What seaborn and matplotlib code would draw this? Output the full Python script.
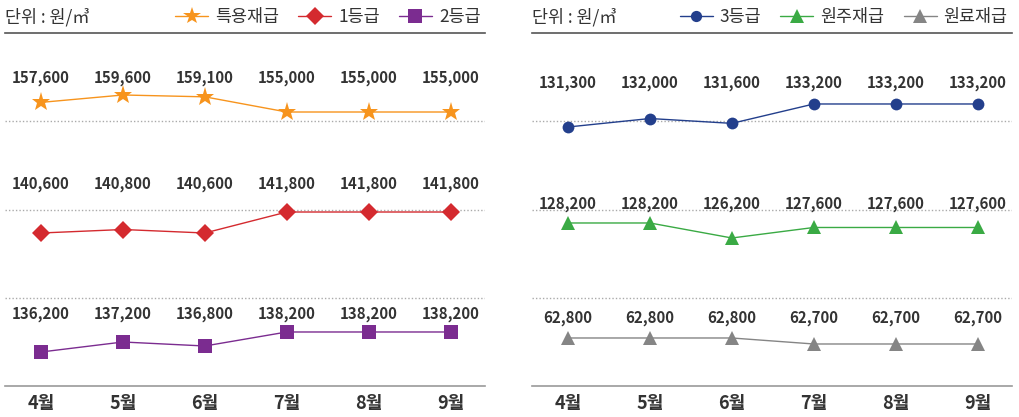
import numpy as np
import pandas as pd
import matplotlib
matplotlib.use("Agg")
import matplotlib.pyplot as plt
from matplotlib.lines import Line2D
import seaborn as sns

# ---------------- data ----------------
months = ["4월", "5월", "6월", "7월", "8월", "9월"]
unit_label = "단위 : 원/㎥"

left_names = ["특용재급", "1등급", "2등급"]
special = [157600, 159600, 159100, 155000, 155000, 155000]
grade1 = [140600, 140800, 140600, 141800, 141800, 141800]
grade2 = [136200, 137200, 136800, 138200, 138200, 138200]

right_names = ["3등급", "원주재급", "원료재급"]
grade3 = [131300, 132000, 131600, 133200, 133200, 133200]
pillar = [128200, 128200, 126200, 127600, 127600, 127600]
pulp = [62800, 62800, 62800, 62700, 62700, 62700]

# ---------------- style ----------------
sns.set_theme(style="white")
plt.rcParams["font.family"] = ["Noto Sans CJK KR", "DejaVu Sans"]

TEXT = "#333333"
panels = [
    dict(rect=[5 / 1019, 31 / 417, 480 / 1019, 353 / 417],
         series=[
             dict(name=left_names[0], vals=special, color="#F7941D", marker="*", ms=14,
                  ylim=(80923, 176359), ly=0.8725),
             dict(name=left_names[1], vals=grade1, color="#D42A2F", marker="D", ms=9.5,
                  ylim=(131859, 152027), ly=0.5722),
             dict(name=left_names[2], vals=grade2, color="#7B2C90", marker="s", ms=10,
                  ylim=(132803, 168076), ly=0.204),
         ]),
    dict(rect=[532 / 1019, 31 / 417, 480 / 1019, 353 / 417],
         series=[
             dict(name=right_names[0], vals=grade3, color="#233F8C", marker="o", ms=8.5,
                  ylim=(109919, 139060), ly=0.858),
             dict(name=right_names[1], vals=pillar, color="#3AAA44", marker="^", ms=10,
                  ylim=(106468, 153527), ly=0.5156),
             dict(name=right_names[2], vals=pulp, color="#858585", marker="^", ms=10,
                  ylim=(62000, 67882), ly=0.1926),
         ]),
]

fig = plt.figure(figsize=(10.19, 4.17), dpi=100)
fig.patch.set_facecolor("white")

x = np.arange(len(months))

for p in panels:
    ax = fig.add_axes(p["rect"])
    ax.set_facecolor("white")
    ax.set_xlim(-0.44, 5.42)
    ax.set_ylim(0, 1)
    ax.set_yticks([])
    ax.set_xticks(x)
    ax.set_xticklabels(months, fontsize=13, fontweight="bold", color=TEXT)
    ax.tick_params(axis="x", length=0, pad=6)
    for s in ["left", "right"]:
        ax.spines[s].set_visible(False)
    ax.spines["top"].set_color("#555555")
    ax.spines["top"].set_linewidth(1.2)
    ax.spines["bottom"].set_color("#9a9a9a")
    ax.spines["bottom"].set_linewidth(1.2)
    for yy in [0.25, 0.5, 0.75]:
        ax.axhline(yy, color="#aaaaaa", lw=1.0, ls=(0, (1, 1.5)), zorder=0)

    handles = []
    for s in p["series"]:
        tw = ax.twinx()
        tw.patch.set_visible(False)
        for sp in tw.spines.values():
            sp.set_visible(False)
        tw.set_yticks([])
        df = pd.DataFrame({"x": x, "v": s["vals"]})
        sns.lineplot(data=df, x="x", y="v", ax=tw, color=s["color"], lw=1.0,
                     marker=s["marker"], markersize=s["ms"], markeredgewidth=0,
                     legend=False)
        tw.set_ylim(*s["ylim"])
        tw.set_xlim(-0.44, 5.42)
        tw.set_xlabel("")
        tw.set_ylabel("")
        for xi, v in zip(x, s["vals"]):
            tw.text(xi, s["ly"], f"{v:,}", transform=tw.get_xaxis_transform(),
                    ha="center", va="center", fontsize=10.8, fontweight="bold",
                    color=TEXT)
        handles.append(Line2D([], [], color=s["color"], lw=1.0, marker=s["marker"],
                              markersize=s["ms"] * 0.95, markeredgewidth=0,
                              label=s["name"]))

    ax.text(0.0, 1.045, unit_label, transform=ax.transAxes, ha="left", va="center",
            fontsize=12.5, color=TEXT)
    ax.legend(handles=handles, loc="center right", bbox_to_anchor=(1.005, 1.045),
              ncol=3, frameon=False, fontsize=12.5, handlelength=1.9,
              columnspacing=1.1, handletextpad=0.4, borderaxespad=0,
              labelcolor=TEXT)

fig.savefig("out.png", dpi=100, facecolor="white")
